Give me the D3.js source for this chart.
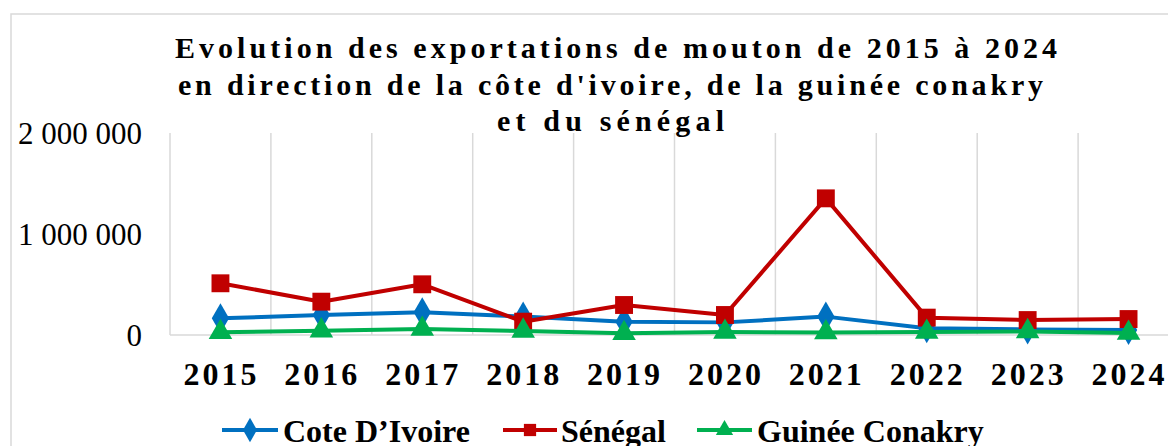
<!DOCTYPE html>
<html><head><meta charset="utf-8">
<script src="https://cdn.jsdelivr.net/npm/d3@7"></script>
<style>
html,body{margin:0;padding:0;background:#fff;overflow:hidden;}
svg{display:block;font-family:"Liberation Serif","Times New Roman",serif;}
</style></head>
<body>
<svg id="chart" width="1168" height="446"></svg>
<script>
const years = ["2015","2016","2017","2018","2019","2020","2021","2022","2023","2024"];
const coteDIvoire = [165000,198000,225000,182000,132000,125000,182000,66000,55000,50000];
const senegal = [512000,330000,502000,132000,297000,198000,1353000,172000,148000,158000];
const guineeConakry = [27000,43000,59000,40000,17000,30000,25000,30000,35000,20000];
const seriesNames = ["Cote D’Ivoire","Sénégal","Guinée Conakry"];
const seriesColors = ["#0070C0","#C00000","#00B050"];
const seriesShapes = [d3.symbolDiamond, d3.symbolSquare, d3.symbolTriangle];
const yTicks = [0,1000000,2000000];
const yTickLabels = ["0","1 000 000","2 000 000"];
const titleLines = ["Evolution des exportations de mouton de 2015 à 2024",
  "en direction de la côte d'ivoire, de la guinée conakry",
  "et du sénégal"];

const series = [coteDIvoire, senegal, guineeConakry].map((v,i)=>({name:seriesNames[i],values:v,color:seriesColors[i],shape:seriesShapes[i]}));

const svg = d3.select("#chart");

// outer frame
svg.append("rect").attr("x",11).attr("y",14).attr("width",1200).attr("height",500)
  .attr("fill","#fff").attr("stroke","#d9d9d9").attr("stroke-width",1.5);

const x = d3.scaleBand().domain(years).range([170, 170 + 100.9*years.length]).padding(0);
const y = d3.scaleLinear().domain([0,2000000]).range([335,133]);

// vertical gridlines
svg.append("g").selectAll("line").data(d3.range(years.length+1)).join("line")
  .attr("x1",i=>x.range()[0]+i*x.step()).attr("x2",i=>x.range()[0]+i*x.step())
  .attr("y1",y(2000000)).attr("y2",y(0))
  .attr("stroke","#d9d9d9").attr("stroke-width",1.5);

// baseline axis
svg.append("line").attr("x1",x.range()[0]).attr("x2",x.range()[1]).attr("y1",y(0)).attr("y2",y(0))
  .attr("stroke","#d9d9d9").attr("stroke-width",1.5);

// y labels
svg.append("g").selectAll("text").data(yTicks).join("text")
  .attr("x",142).attr("y",d=>y(d)).attr("dy","0.34em").attr("text-anchor","end")
  .attr("font-size",31).attr("fill","#000").text((d,i)=>yTickLabels[i]);

// x labels
svg.append("g").selectAll("text").data(years).join("text")
  .attr("x",d=>x(d)+x.bandwidth()/2 + 1).attr("y",385).attr("text-anchor","middle")
  .attr("font-size",32).attr("font-weight","bold").attr("letter-spacing","3px").attr("fill","#000").text(d=>d);

// lines
const line = d3.line().x((d,i)=>x(years[i])+x.bandwidth()/2).y(d=>y(d));
const symSize = [260, 320, 240];
const legSize = [170, 150, 130];
series.forEach((s,k)=>{
  const g = svg.append("g");
  g.append("path").attr("d",line(s.values)).attr("fill","none").attr("stroke",s.color)
    .attr("stroke-width",4).attr("stroke-linejoin","round");
  g.selectAll("path.m").data(s.values).join("path").attr("class","m")
    .attr("transform",(d,i)=>`translate(${x(years[i])+x.bandwidth()/2},${y(d)})`)
    .attr("d",d3.symbol().type(s.shape).size(symSize[k])).attr("fill",s.color);
});

// title
const titleTargets = [[175,1057],[178,1043],[497,724]];
titleLines.forEach((t,i)=>{
  const [a,b] = titleTargets[i];
  svg.append("text").attr("x",(a+b)/2).attr("y",58+i*36.5).attr("text-anchor","middle")
    .attr("font-size",30).attr("font-weight","bold").attr("fill","#000")
    .attr("textLength",b-a).attr("lengthAdjust","spacing").text(t);
});

// legend
const legendItems = [{x0:222,x1:278,tx:283},{x0:503,x1:557,tx:561},{x0:697,x1:752,tx:757}];
series.forEach((s,k)=>{
  const L = legendItems[k];
  const g = svg.append("g");
  g.append("line").attr("x1",L.x0).attr("x2",L.x1).attr("y1",430).attr("y2",430)
    .attr("stroke",s.color).attr("stroke-width",4);
  g.append("path").attr("transform",`translate(${(L.x0+L.x1)/2},430)`)
    .attr("d",d3.symbol().type(s.shape).size(legSize[k])).attr("fill",s.color);
  g.append("text").attr("x",L.tx).attr("y",442).attr("font-size",32).attr("font-weight","bold")
    .attr("fill","#000").text(s.name);
});
</script>
</body></html>
